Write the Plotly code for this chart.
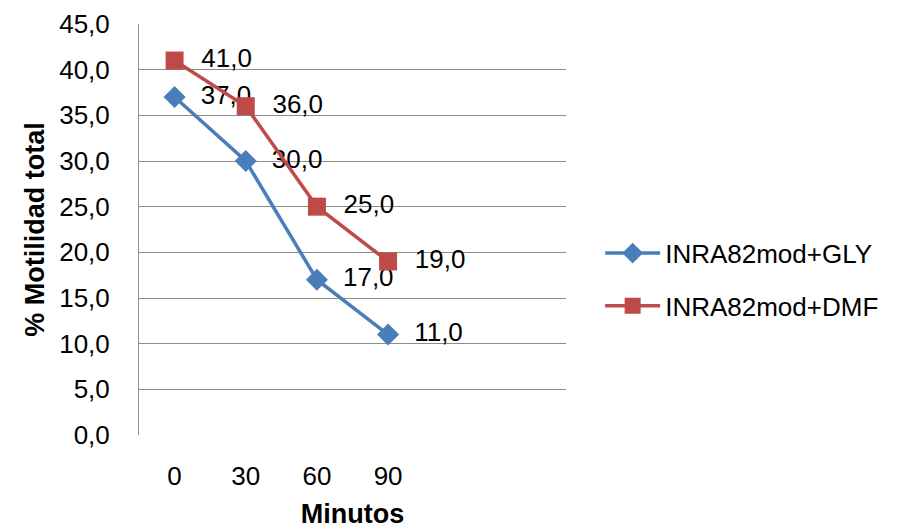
import plotly.graph_objects as go

categories = ["0", "30", "60", "90"]
gly = [37.0, 30.0, 17.0, 11.0]
dmf = [41.0, 36.0, 25.0, 19.0]
y_ticks = [0, 5, 10, 15, 20, 25, 30, 35, 40, 45]

FONT = "Liberation Sans, Arial, sans-serif"
FS = 26
xpos = list(range(len(categories)))

def fmt(v):
    return f"{v:.1f}".replace(".", ",")

def lab(v):
    return "\u00a0\u00a0" + fmt(v)

fig = go.Figure()
fig.add_trace(go.Scatter(
    x=xpos, y=gly, name="INRA82mod+GLY", mode="lines+markers+text",
    legendgroup="g1",
    line=dict(color="#4A7EBB", width=3.5),
    marker=dict(symbol="diamond", size=17, color="#4A7EBB"),
    text=[lab(v) for v in gly], textposition="middle right",
    textfont=dict(family=FONT, size=FS, color="#000000"),
))
fig.add_trace(go.Scatter(
    x=xpos, y=dmf, name="INRA82mod+DMF", mode="lines+markers+text",
    legendgroup="g2",
    line=dict(color="#BE4B48", width=3.5),
    marker=dict(symbol="square", size=18, color="#BE4B48"),
    text=[lab(v) for v in dmf], textposition="middle right",
    textfont=dict(family=FONT, size=FS, color="#000000"),
))

fig.update_layout(
    width=907, height=529,
    margin=dict(l=139, r=341, t=24, b=94),
    plot_bgcolor="white", paper_bgcolor="white",
    font=dict(family=FONT, size=FS, color="#000000"),
    showlegend=True,
    legend=dict(x=1.08, y=0.378, xanchor="left", yanchor="middle",
                font=dict(family=FONT, size=FS), itemwidth=55,
                tracegroupgap=16),
    xaxis=dict(
        range=[-0.5, 5.5], tickvals=xpos, ticktext=categories,
        showgrid=False, zeroline=False, showline=False, ticks="",
        ticklabelstandoff=23, automargin=False,
        title=dict(text="<b>Minutos</b>", font=dict(size=27), standoff=18),
    ),
    yaxis=dict(
        range=[0, 45], tickvals=y_ticks, ticktext=[fmt(v) for v in y_ticks],
        showgrid=True, gridcolor="#8C8C8C", gridwidth=1,
        zeroline=False, showline=True, linecolor="#8C8C8C", linewidth=1,
        ticks="", ticklabelstandoff=23, automargin=False,
        title=dict(text="<b>% Motilidad total</b>", font=dict(size=27), standoff=6),
    ),
)

fig.write_html("out.html")
